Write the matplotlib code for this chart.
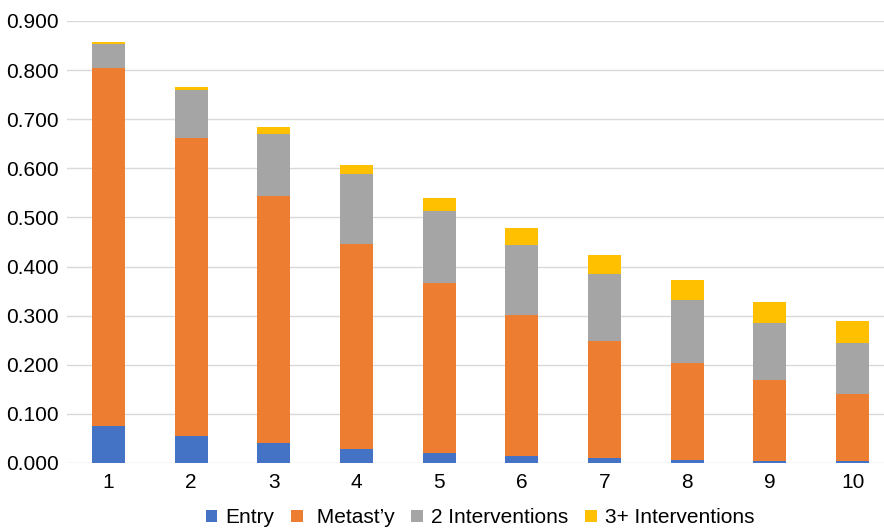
import numpy as np
import matplotlib.pyplot as plt

plt.rcParams['font.family'] = ['Liberation Sans', 'DejaVu Sans']

# данні
years = [1, 2, 3, 4, 5, 6, 7, 8, 9, 10]
entry = [0.075, 0.055, 0.041, 0.029, 0.021, 0.015, 0.010, 0.007, 0.005, 0.004]
metast = [0.729, 0.607, 0.503, 0.417, 0.346, 0.286, 0.238, 0.197, 0.164, 0.136]
two_int = [0.049, 0.098, 0.126, 0.143, 0.146, 0.143, 0.137, 0.128, 0.116, 0.104]
three_int = [0.004, 0.006, 0.014, 0.018, 0.027, 0.035, 0.039, 0.041, 0.043, 0.045]
labels = ['Entry', ' Metast\u2019y', '2 Interventions', '3+ Interventions']
colors = ['#4472C4', '#ED7D31', '#A5A5A5', '#FFC000']

fig = plt.figure(figsize=(8.84, 5.30), dpi=100)
ax = fig.add_axes([67 / 884, 1 - 463 / 530, 1 - 67 / 884, (463 - 21) / 530])

x = np.array(years)
bottom = np.zeros(len(years))
for vals, lab, col in zip([entry, metast, two_int, three_int], labels, colors):
    ax.bar(x, vals, width=0.4, bottom=bottom, color=col, label=lab, zorder=3)
    bottom += np.array(vals)

ax.set_ylim(0, 0.9)
ax.set_xlim(0.5, 10.38)
ax.set_yticks(np.arange(0, 0.91, 0.1))
ax.set_yticklabels(['%.3f' % v for v in np.arange(0, 0.91, 0.1)])
ax.set_xticks(x)
ax.set_xticklabels([str(v) for v in years])
ax.tick_params(axis='both', length=0, labelsize=15, colors='black')
ax.tick_params(axis='y', pad=6)
ax.tick_params(axis='x', pad=7)
ax.grid(axis='y', color='#D9D9D9', linewidth=1, zorder=0)
for s in ax.spines.values():
    s.set_visible(False)

fig.legend(loc='lower center', bbox_to_anchor=(0.543, -0.03), ncol=4, frameon=False,
           fontsize=15, handlelength=0.55, handleheight=0.55, handletextpad=0.4,
           columnspacing=0.8)

fig.savefig('out.png', dpi=100)
